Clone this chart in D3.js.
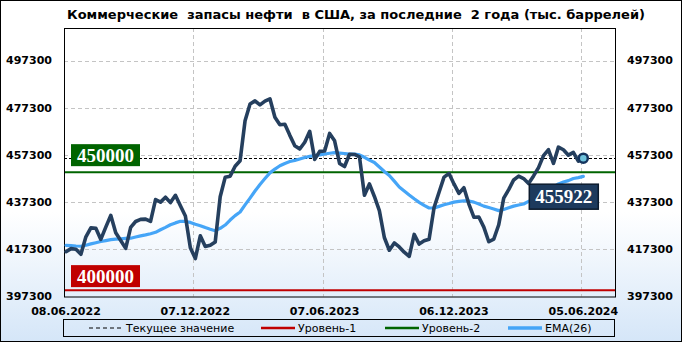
<!DOCTYPE html>
<html>
<head>
<meta charset="utf-8">
<script src="https://cdn.jsdelivr.net/npm/d3@7"></script>
<style>
  body { margin: 0; background: #fff; }
  text { font-family: "DejaVu Sans", sans-serif; }
</style>
</head>
<body>
<div id="chart"></div>
<script>
// weekly commercial crude stocks, thousand barrels (release dates, weekly from startDate)
const startDate = "08.06.2022"
const tickLabels = ["08.06.2022", "07.12.2022", "07.06.2023", "06.12.2023", "05.06.2024"]
const yTicks = [397300, 417300, 437300, 457300, 477300, 497300]
const levels = [400000, 450000]  // Уровень-1, Уровень-2

const stocks = [
  416300, 417600, 417300, 415200, 422600, 426400, 426200, 421500, 426700, 431700,
  424300, 421000, 417700, 426600, 429100, 430000, 430100, 429100, 438400, 437300,
  439400, 437100, 440200, 435800, 431400, 418000, 413400, 423000, 418500, 419000,
  420400, 439600, 447800, 448300, 452500, 454800, 471800, 478900, 480200, 478500,
  480100, 481100, 473300, 470100, 470300, 465600, 461200, 459800, 462700, 467300,
  455400, 458800, 459000, 466400, 463300, 453700, 452400, 457600, 457500, 456500,
  440200, 445000, 439700, 433700, 422300, 416900, 420000, 418300, 416100, 414300,
  423600, 419500, 420900, 421600, 435000, 441500, 447900, 449400, 445000, 441000,
  443400, 436500, 430900, 431000, 426700, 420500, 421600, 427700, 439000, 442600,
  446700, 448300, 447300, 445200, 448400, 451900, 457000, 459500, 453700, 460600,
  459500, 457200, 458400, 454700, 455922
]

const ema26 = [
  419000, 418900, 418700, 418600, 419000, 419600, 420100, 420600, 421000, 421400,
  421600, 421700, 421900, 422000, 422500, 423000, 423400, 423900, 424500, 425600,
  426600, 427700, 428500, 429200, 429100, 428700, 427900, 427300, 426500, 425800,
  425200, 426200, 427600, 429700, 431600, 433100, 436100, 439000, 442000, 444800,
  447300, 449700, 451300, 452700, 453700, 454500, 455000, 455600, 456200, 456700,
  457000, 457300, 457700, 458000, 458300, 458100, 457900, 457700, 457700, 457300,
  456300, 455100, 454100, 452200, 450300, 448600, 446200, 443700, 442000, 440300,
  438700, 437200, 435900, 434800, 434800, 435500, 436200, 436700, 437300, 437600,
  437800, 437800, 437300, 436500, 435600, 435000, 434400, 433700, 434200, 434900,
  435600, 436100, 436500, 437600, 438600, 439900, 441200, 442600, 443700, 445000,
  445800, 446400, 447300, 447700, 448200
]

const width = 682, height = 342
const plot = {left: 64, right: 615, top: 28, bottom: 296.5}

const parse = d3.timeParse("%d.%m.%Y")
const t0 = parse(startDate)
const dates = stocks.map((d, i) => d3.timeDay.offset(t0, 7 * i))
const last = stocks.length - 1

const x = d3.scaleTime()
  .domain([dates[0], dates[last]])
  .range([66, 583.3])
const y = d3.scaleLinear()
  .domain([397300, 511100])
  .range([plot.bottom, plot.top])

const svg = d3.select("#chart").append("svg")
  .attr("width", width)
  .attr("height", height)

// background gradient, white to pale blue
const grad = svg.append("defs").append("linearGradient")
  .attr("id", "bg").attr("x1", 0).attr("y1", 0).attr("x2", 0).attr("y2", 1)
grad.append("stop").attr("offset", "0%").attr("stop-color", "#ffffff")
grad.append("stop").attr("offset", "62%").attr("stop-color", "#ffffff")
grad.append("stop").attr("offset", "100%").attr("stop-color", "#d5e6f8")

svg.append("rect")
  .attr("x", 0.5).attr("y", 0.5)
  .attr("width", width - 1).attr("height", height - 1)
  .attr("fill", "url(#bg)")
  .attr("stroke", "#000")

svg.append("text")
  .attr("x", 67).attr("y", 19)
  .style("white-space", "pre")
  .attr("font-size", 13).attr("font-weight", "bold")
  .text("Коммерческие  запасы нефти  в США, за последние  2 года (тыс. баррелей)")

// grid
svg.append("g").selectAll("line").data(yTicks.slice(1)).enter().append("line")
  .attr("x1", plot.left).attr("x2", plot.right)
  .attr("y1", d => Math.round(y(d)) + 0.5).attr("y2", d => Math.round(y(d)) + 0.5)
  .attr("stroke", "#c4c4c4").attr("stroke-dasharray", "4,3")

svg.append("g").selectAll("line").data(tickLabels.slice(1)).enter().append("line")
  .attr("x1", d => Math.round(x(parse(d))) - 1.5).attr("x2", d => Math.round(x(parse(d))) - 1.5)
  .attr("y1", plot.top).attr("y2", plot.bottom)
  .attr("stroke", "#c4c4c4").attr("stroke-dasharray", "4,3")

// y labels both sides
const yl = svg.append("g").attr("font-size", 11).attr("font-weight", "bold")
yl.selectAll(".l").data(yTicks).enter().append("text")
  .attr("x", 52).attr("y", d => y(d))
  .attr("dy", "0.35em").attr("text-anchor", "end")
  .text(d => d)
yl.selectAll(".r").data(yTicks).enter().append("text")
  .attr("x", 627).attr("y", d => y(d))
  .attr("dy", "0.35em")
  .text(d => d)

// x labels
svg.append("g").attr("font-size", 11).attr("font-weight", "bold")
  .selectAll("text").data(tickLabels).enter().append("text")
  .attr("x", d => x(parse(d))).attr("y", 315)
  .attr("text-anchor", "middle")
  .text(d => d)

// levels
const levelColors = ["#c00000", "#006400"]
svg.append("g").selectAll("line").data(levels).enter().append("line")
  .attr("x1", plot.left).attr("x2", plot.right)
  .attr("y1", d => y(d)).attr("y2", d => y(d))
  .attr("stroke", (d, i) => levelColors[i]).attr("stroke-width", 2)

// current value
svg.append("line")
  .attr("x1", plot.left).attr("x2", plot.right)
  .attr("y1", Math.round(y(stocks[last])) + 0.5).attr("y2", Math.round(y(stocks[last])) + 0.5)
  .attr("stroke", "#000").attr("stroke-dasharray", "3,2")

// level badges
const badgeOff = [3, 6]
levels.forEach(function(v, i) {
  const by = y(v) - badgeOff[i] - 22
  svg.append("rect")
    .attr("x", 71).attr("y", by).attr("width", 69).attr("height", 22)
    .attr("fill", levelColors[i])
  svg.append("text")
    .attr("x", 105.5).attr("y", by + 17.5)
    .attr("text-anchor", "middle")
    .style("font-family", "'Liberation Serif', serif")
    .attr("font-size", 19).attr("font-weight", "bold").attr("fill", "#fff")
    .text(v)
})

svg.append("rect")
  .attr("x", plot.left + 0.5).attr("y", plot.top + 0.5)
  .attr("width", plot.right - plot.left).attr("height", plot.bottom - plot.top)
  .attr("fill", "none").attr("stroke", "#000")

const line = d3.line()
  .x((d, i) => x(dates[i]))
  .y(d => y(d))

svg.append("path").datum(ema26)
  .attr("d", line)
  .attr("fill", "none").attr("stroke", "#45a5f7")
  .attr("stroke-width", 3.2).attr("stroke-linejoin", "round").attr("stroke-linecap", "round")

svg.append("path").datum(stocks)
  .attr("d", line)
  .attr("fill", "none").attr("stroke", "#253f5e")
  .attr("stroke-width", 3.6).attr("stroke-linejoin", "round").attr("stroke-linecap", "round")

const lx = x(dates[last]), ly = y(stocks[last])
svg.append("circle")
  .attr("cx", lx).attr("cy", ly).attr("r", 4.5)
  .attr("fill", "#6fc3dc").attr("stroke", "#14345e").attr("stroke-width", 2.5)

svg.append("rect")
  .attr("x", lx - 54).attr("y", ly + 26).attr("width", 69).attr("height", 25)
  .attr("fill", "#1d3a5d").attr("stroke", "#0b1a2c").attr("stroke-width", 1.5)
svg.append("text")
  .attr("x", lx - 19.5).attr("y", ly + 45)
  .attr("text-anchor", "middle")
  .style("font-family", "'Liberation Serif', serif")
  .attr("font-size", 19).attr("font-weight", "bold").attr("fill", "#fff")
  .text(stocks[last])

// legend
const lg = svg.append("g")
lg.append("rect")
  .attr("x", 63.5).attr("y", 319.5).attr("width", 551).attr("height", 17)
  .attr("fill", "none").attr("stroke", "#000")
const legendItems = [
  {name: "Текущее значение", color: "#000", dash: "4,3", w: 1, x: 89},
  {name: "Уровень-1", color: "#c00000", dash: null, w: 2.5, x: 261},
  {name: "Уровень-2", color: "#006400", dash: null, w: 2.5, x: 385},
  {name: "EMA(26)", color: "#45a5f7", dash: null, w: 3.5, x: 508}
]
legendItems.forEach(function(d) {
  lg.append("line")
    .attr("x1", d.x).attr("x2", d.x + 34).attr("y1", 328).attr("y2", 328)
    .attr("stroke", d.color).attr("stroke-width", d.w)
    .attr("stroke-dasharray", d.dash)
  lg.append("text")
    .attr("x", d.x + 37).attr("y", 332)
    .attr("font-size", 11)
    .text(d.name)
})
</script>
</body>
</html>
